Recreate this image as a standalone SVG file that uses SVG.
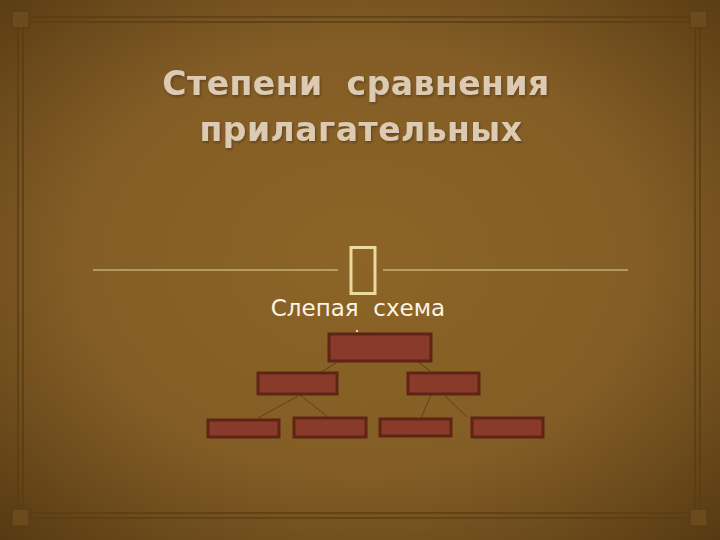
<svg xmlns="http://www.w3.org/2000/svg" width="720" height="540" viewBox="0 0 720 540">
<defs>
<radialGradient id="bg" cx="50%" cy="48%" r="72%">
<stop offset="0" stop-color="#8c6427"/>
<stop offset="0.55" stop-color="#835d25"/>
<stop offset="1" stop-color="#573a13"/>
</radialGradient>
<filter id="sh" x="-10%" y="-20%" width="120%" height="140%">
<feDropShadow dx="1" dy="1.5" stdDeviation="1" flood-color="#3a2408" flood-opacity="0.5"/>
</filter>
</defs>
<style>
.frame{stroke:#5a3e14;stroke-width:1.6;fill:none}
.corner{fill:#6a4b1c;stroke:#56391a;stroke-width:1}
.box{fill:#8a3a2a;stroke:#5e2414;stroke-width:3}
.conn{stroke:#6b3a18;stroke-width:1;fill:none}
.title{font-family:"DejaVu Sans",sans-serif;font-weight:bold;font-size:33px;letter-spacing:0.5px;fill:#dccbb2;text-anchor:middle;white-space:pre}
.sub{font-family:"DejaVu Sans",sans-serif;font-size:23px;fill:#fbf3e4;text-anchor:middle;white-space:pre}
.sep{stroke:#e6d3a0;stroke-width:1}
</style>
<rect width="720" height="540" fill="url(#bg)"/>
<g id="frame">
<line class="frame" x1="28" y1="17" x2="692" y2="17"/>
<line class="frame" x1="28" y1="22" x2="692" y2="22"/>
<line class="frame" x1="28" y1="513" x2="692" y2="513"/>
<line class="frame" x1="28" y1="518" x2="692" y2="518"/>
<line class="frame" x1="18" y1="28" x2="18" y2="512"/>
<line class="frame" x1="23" y1="28" x2="23" y2="512"/>
<line class="frame" x1="695" y1="28" x2="695" y2="512"/>
<line class="frame" x1="700" y1="28" x2="700" y2="512"/>
<rect class="corner" x="12" y="11" width="17" height="17"/>
<rect class="corner" x="690" y="11" width="17" height="17"/>
<rect class="corner" x="12" y="509" width="17" height="17"/>
<rect class="corner" x="690" y="509" width="17" height="17"/>
</g>
<g id="title" filter="url(#sh)">
<text class="title" x="356" y="95" xml:space="preserve">Степени  сравнения</text>
<text class="title" x="361" y="141">прилагательных</text>
</g>
<g id="separator">
<line class="sep" x1="93" y1="270" x2="338" y2="270"/>
<line class="sep" x1="383" y1="270" x2="628" y2="270"/>
<rect x="351" y="247.5" width="24" height="46" fill="none" stroke="#ecd9a0" stroke-width="3"/>
</g>
<g id="subtitle">
<text class="sub" x="358" y="316" xml:space="preserve">Слепая  схема</text>
</g>
<g id="connectors">
<line class="conn" x1="353" y1="352" x2="320" y2="373"/>
<line class="conn" x1="405" y1="352" x2="430" y2="371"/>
<line class="conn" x1="298" y1="396" x2="258" y2="418"/>
<line class="conn" x1="300" y1="395" x2="328" y2="417"/>
<line class="conn" x1="431" y1="395" x2="421" y2="418"/>
<line class="conn" x1="445" y1="396" x2="467" y2="417"/>
</g>
<g id="n-top"><rect class="box" x="329" y="334" width="102" height="27"/></g>
<g id="n-mid-left"><rect class="box" x="258" y="373" width="79" height="21"/></g>
<g id="n-mid-right"><rect class="box" x="408" y="373" width="71" height="21"/></g>
<g id="n-bot-1"><rect class="box" x="208" y="420" width="71" height="17"/></g>
<g id="n-bot-2"><rect class="box" x="294" y="418" width="72" height="19"/></g>
<g id="n-bot-3"><rect class="box" x="380" y="419" width="71" height="17"/></g>
<g id="n-bot-4"><rect class="box" x="472" y="418" width="71" height="19"/></g>
<circle cx="357" cy="331" r="1" fill="#fff"/>
</svg>
